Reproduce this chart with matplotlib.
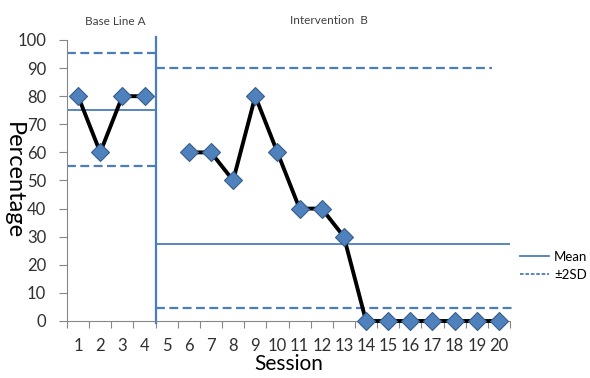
import matplotlib.pyplot as plt
import numpy as np

# data
sessions = np.arange(1, 21)
base_sessions = [1, 2, 3, 4]
base_values = [80, 60, 80, 80]
interv_sessions = [6, 7, 8, 9, 10, 11, 12, 13, 14, 15, 16, 17, 18, 19, 20]
interv_values = [60, 60, 50, 80, 60, 40, 40, 30, 0, 0, 0, 0, 0, 0, 0]

# phase statistics (mean, +2SD, -2SD)
base_stats = [75, 95.5, 55.3]
interv_stats = [27.3, 90, 4.5]
phase_change = 4.5

blue = '#4A7EBB'
plt.rcParams['font.family'] = ['Lato', 'DejaVu Sans']

fig = plt.figure(figsize=(5.9, 3.78), dpi=100)
ax = fig.add_axes([0.1136, 0.1508, 0.7508, 0.7434])

# phase mean and +-2SD lines
ax.plot([0.5, phase_change], [base_stats[0]] * 2, color=blue, lw=1.3)
ax.plot([0.5, phase_change], [base_stats[1]] * 2, color=blue, lw=1.6, dashes=(4, 2))
ax.plot([0.5, phase_change], [base_stats[2]] * 2, color=blue, lw=1.6, dashes=(4, 2))
ax.plot([phase_change, 20.5], [interv_stats[0]] * 2, color=blue, lw=1.3)
ax.plot([phase_change, 19.7], [interv_stats[1]] * 2, color=blue, lw=1.6, dashes=(4, 2))
ax.plot([phase_change, 20.6], [interv_stats[2]] * 2, color=blue, lw=1.6, dashes=(4, 2), clip_on=False)

# phase change line
ax.plot([phase_change, phase_change], [-0.8, 101], color=blue, lw=1.6, clip_on=False)

# data series
for xs, ys in [(base_sessions, base_values), (interv_sessions, interv_values)]:
    ax.plot(xs, ys, color='black', lw=2.8, marker='D', ms=9.5,
            mfc='#4F81BD', mec='#385D8A', mew=0.8, clip_on=False, zorder=5)

ax.set_xlim(0.5, 20.5)
ax.set_ylim(0, 100)
ax.set_yticks(np.arange(0, 101, 10))
ax.set_xticks(np.arange(0.5, 21, 1))
ax.set_xticklabels([])
ax.set_xticks(sessions, minor=True)
ax.set_xticklabels([str(s) for s in sessions], minor=True)
ax.tick_params(axis='x', which='major', length=5, color='#868686', direction='out')
ax.tick_params(axis='x', which='minor', length=0, labelsize=12, pad=12, colors='#303030')
ax.tick_params(axis='y', length=6, color='#868686', labelsize=12, colors='#303030', pad=9)

for side in ['top', 'right']:
    ax.spines[side].set_visible(False)
for side in ['left', 'bottom']:
    ax.spines[side].set_color('#868686')

ax.set_ylabel('Percentage', fontsize=17, rotation=270, va='center')
ax.yaxis.set_label_coords(-0.12, 0.5)
ax.set_xlabel('Session', fontsize=15, labelpad=0)

fig.text(0.195, 0.944, 'Base Line A', fontsize=8.5, ha='center', va='center', color='#404040')
fig.text(0.557, 0.947, 'Intervention  B', fontsize=8.5, ha='center', va='center', color='#404040')

# legend
fig.legend(handles=[plt.Line2D([], [], color=blue, lw=1.3),
                    plt.Line2D([], [], color=blue, lw=1.3, dashes=(2, 1))],
           labels=['Mean', '\u00b12SD'], loc='upper left',
           bbox_to_anchor=(0.872, 0.35), frameon=False, fontsize=9.5,
           handlelength=2.2, handletextpad=0.4, labelspacing=0.45, borderaxespad=0)

fig.savefig('out.png', dpi=100)
